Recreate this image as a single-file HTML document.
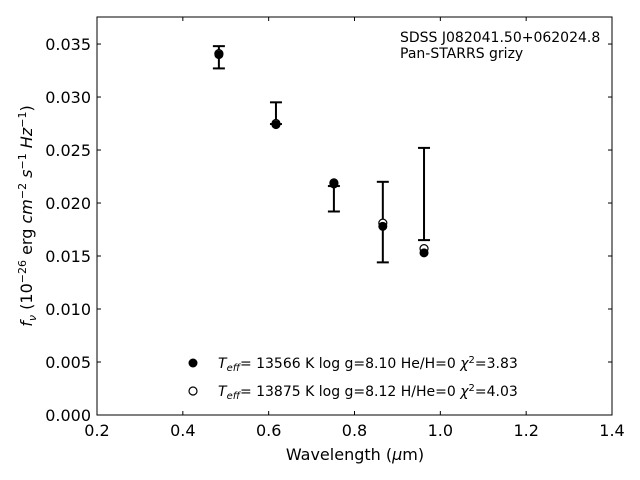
<!DOCTYPE html>
<html><head><meta charset="utf-8"><style>
body{margin:0;background:#fff}
svg{display:block;font-family:"DejaVu Sans","Liberation Sans",sans-serif}
</style></head><body>
<svg id="chart" width="640" height="480" viewBox="0 0 640 480"></svg>
<script>
const bands = ["g","r","i","z","y"];
const wavelengths = [0.484, 0.617, 0.752, 0.866, 0.962];
const obsLow = [0.0327, 0.02745, 0.0192, 0.0144, 0.0165];
const obsHigh = [0.0348, 0.0295, 0.0216, 0.0220, 0.0252];
const modelHe = [0.0340, 0.0274, 0.0218, 0.0178, 0.0153];
const modelH = [0.0341, 0.0275, 0.0219, 0.0181, 0.0157];
const xTicks = [0.2,0.4,0.6,0.8,1.0,1.2,1.4];
const xTickLabels = ["0.2","0.4","0.6","0.8","1.0","1.2","1.4"];
const yTicks = [0,0.005,0.010,0.015,0.020,0.025,0.030,0.035];
const yTickLabels = ["0.000","0.005","0.010","0.015","0.020","0.025","0.030","0.035"];

const L=97,R=612,T=17,B=415, xmin=0.2,xmax=1.4, ymin=0,ymax=0.03755;
const sx=v=>L+(v-xmin)/(xmax-xmin)*(R-L);
const sy=v=>B-(v-ymin)/(ymax-ymin)*(B-T);
const svg=document.getElementById('chart');
const NS="http://www.w3.org/2000/svg";
function mk(tag,attrs,name,parent){const e=document.createElementNS(NS,tag);for(const k in attrs)e.setAttribute(k,attrs[k]);


(parent||svg).appendChild(e);return e;}

// axes frame
mk('rect',{x:L,y:T,width:R-L,height:B-T,fill:'none',stroke:'#000','stroke-width':1},'plot-frame');
xTicks.forEach((t,i)=>{const x=sx(t);
 mk('line',{x1:x,x2:x,y1:B,y2:B-4,stroke:'#000'},'x-tick');
 mk('line',{x1:x,x2:x,y1:T,y2:T+4,stroke:'#000'},'x-tick-top');
 const tx=mk('text',{x:x,y:B+21,'text-anchor':'middle','font-size':16},'x-tick-label');tx.textContent=xTickLabels[i];});
yTicks.forEach((t,i)=>{const y=sy(t);
 mk('line',{x1:L,x2:L+4,y1:y,y2:y,stroke:'#000'},'y-tick');
 mk('line',{x1:R,x2:R-4,y1:y,y2:y,stroke:'#000'},'y-tick-right');
 const tx=mk('text',{x:L-6,y:y+6,'text-anchor':'end','font-size':16},'y-tick-label');tx.textContent=yTickLabels[i];});

// error bars
wavelengths.forEach((w,i)=>{const x=sx(w),y1=sy(obsLow[i]),y2=sy(obsHigh[i]);
 mk('line',{x1:x,x2:x,y1:y1,y2:y2,stroke:'#000','stroke-width':2},'error-bar-'+bands[i]);
 mk('line',{x1:x-6,x2:x+6,y1:y1,y2:y1,stroke:'#000','stroke-width':2},'error-cap-low-'+bands[i]);
 mk('line',{x1:x-6,x2:x+6,y1:y2,y2:y2,stroke:'#000','stroke-width':2},'error-cap-high-'+bands[i]);});
// models
wavelengths.forEach((w,i)=>{mk('circle',{cx:sx(w),cy:sy(modelH[i]),r:4,fill:'#fff',stroke:'#000','stroke-width':1.2},'model-h-point-'+bands[i]);});
wavelengths.forEach((w,i)=>{mk('circle',{cx:sx(w),cy:sy(modelHe[i]),r:4.5,fill:'#000'},'model-he-point-'+bands[i]);});
</script>
<svg width="640" height="480" style="position:absolute;left:0;top:0">
<text x="400" y="42" font-size="14" font-family="DejaVu Sans, sans-serif">SDSS J082041.50+062024.8</text>
<text x="400" y="58" font-size="14" font-family="DejaVu Sans, sans-serif">Pan-STARRS grizy</text>
<g font-family="DejaVu Sans, sans-serif" font-size="14">
<circle cx="193" cy="363" r="4.5" fill="#000"/>
<text x="218" y="368"><tspan font-style="italic">T</tspan><tspan font-size="10" dy="3" font-style="italic">eff</tspan><tspan dy="-3">= 13566 K  log g=8.10  He/H=0  </tspan><tspan font-style="italic">χ</tspan><tspan font-size="10" dy="-5">2</tspan><tspan dy="5">=3.83</tspan></text>
<circle cx="193" cy="391" r="4" fill="#fff" stroke="#000" stroke-width="1.2"/>
<text x="218" y="396"><tspan font-style="italic">T</tspan><tspan font-size="10" dy="3" font-style="italic">eff</tspan><tspan dy="-3">= 13875 K  log g=8.12  H/He=0  </tspan><tspan font-style="italic">χ</tspan><tspan font-size="10" dy="-5">2</tspan><tspan dy="5">=4.03</tspan></text>
</g>
<text x="355" y="460" text-anchor="middle" font-size="16" font-family="DejaVu Sans, sans-serif">Wavelength (<tspan font-style="italic">μ</tspan>m)</text>
<text transform="translate(32,216) rotate(-90)" text-anchor="middle" font-size="16" font-family="DejaVu Sans, sans-serif"><tspan font-style="italic">f</tspan><tspan font-size="11" dy="4" font-style="italic">ν</tspan><tspan dy="-4"> (10</tspan><tspan font-size="11" dy="-6">−26</tspan><tspan dy="6"> erg </tspan><tspan font-style="italic">cm</tspan><tspan font-size="11" dy="-6">−2</tspan><tspan dy="6" font-style="italic"> s</tspan><tspan font-size="11" dy="-6">−1</tspan><tspan dy="6" font-style="italic"> Hz</tspan><tspan font-size="11" dy="-6">−1</tspan><tspan dy="6">)</tspan></text>
</svg>
</body></html>
